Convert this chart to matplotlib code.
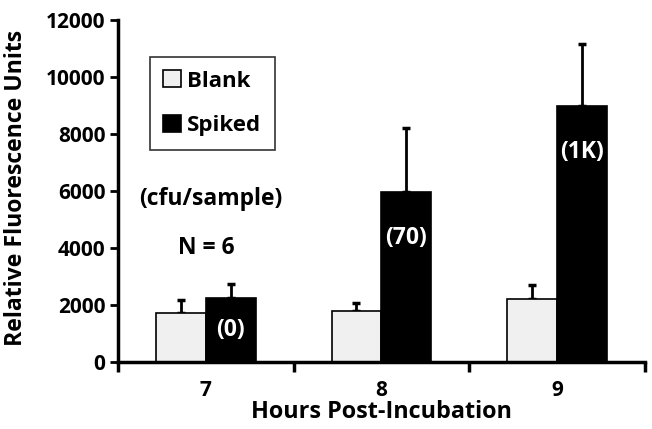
import matplotlib.pyplot as plt
import numpy as np

hours = ['7', '8', '9']
blank = [1720, 1790, 2210]
blank_err = [460, 280, 490]
spiked = [2250, 5960, 8980]
spiked_err = [490, 2250, 2180]
spiked_labels = ['(0)', '(70)', '(1K)']
label_y = [1120, 4350, 7370]

plt.rcParams['font.family'] = ['Open Sans', 'DejaVu Sans']
plt.rcParams['font.weight'] = 'bold'

fig = plt.figure(figsize=(6.52, 4.29), dpi=100)
ax = fig.add_axes([0.181, 0.156, 0.808, 0.797])

x = np.arange(len(hours))
w = 0.284
ax.bar(x - w / 2, blank, w, color='#f0f0f0', edgecolor='black', linewidth=1.2,
       label='Blank', zorder=2)
ax.bar(x + w / 2, spiked, w, color='black', edgecolor='black', linewidth=1.2,
       label='Spiked', zorder=2)
ax.errorbar(x - w / 2, blank, yerr=[np.zeros(3), blank_err], fmt='none',
            ecolor='black', elinewidth=2, capsize=3, capthick=2.5, zorder=1)
ax.errorbar(x + w / 2, spiked, yerr=[np.zeros(3), spiked_err], fmt='none',
            ecolor='black', elinewidth=2, capsize=3, capthick=2.5, zorder=1)

for xi, lab, ly in zip(x, spiked_labels, label_y):
    ax.text(xi + w / 2, ly, lab, color='white', ha='center', va='center',
            fontsize=16.5, fontweight='bold')

ax.text(0.03, 5720, '(cfu/sample)', ha='center', va='center', fontsize=16.5,
        fontweight='bold')
ax.text(0.0, 4000, 'N = 6', ha='center', va='center', fontsize=16.5,
        fontweight='bold')

ax.set_xlim(-0.5, 2.5)
ax.set_ylim(0, 12000)
ax.set_yticks(np.arange(0, 12001, 2000))
ax.set_xticks(x)
ax.set_xticklabels(hours)
ax.set_xticks([-0.5, 0.5, 1.5, 2.5], minor=True)
ax.tick_params(axis='x', which='major', length=0, pad=13, labelsize=15)
ax.tick_params(axis='x', which='minor', length=7, width=2.5, direction='out')
ax.tick_params(axis='y', length=6, width=2, labelsize=15, pad=3)
for lab in ax.get_xticklabels() + ax.get_yticklabels():
    lab.set_fontweight('bold')

for s in ['top', 'right']:
    ax.spines[s].set_visible(False)
for s in ['left', 'bottom']:
    ax.spines[s].set_linewidth(2.5)

ax.set_xlabel('Hours Post-Incubation', fontsize=16.8, fontweight='bold', labelpad=-1)
ax.set_ylabel('Relative Fluorescence Units', fontsize=16.6, fontweight='bold')
ax.yaxis.set_label_coords(-0.17, 0.51)

leg = ax.legend(loc='upper left', bbox_to_anchor=(0.06, 0.892),
                frameon=True, fancybox=False, edgecolor='black',
                handlelength=0.8, handleheight=0.8, handletextpad=0.3,
                labelspacing=1.05, borderpad=0.6, borderaxespad=0,
                prop={'weight': 'bold', 'size': 16})
leg.get_frame().set_linewidth(1.2)

fig.savefig('out.png', dpi=100)
